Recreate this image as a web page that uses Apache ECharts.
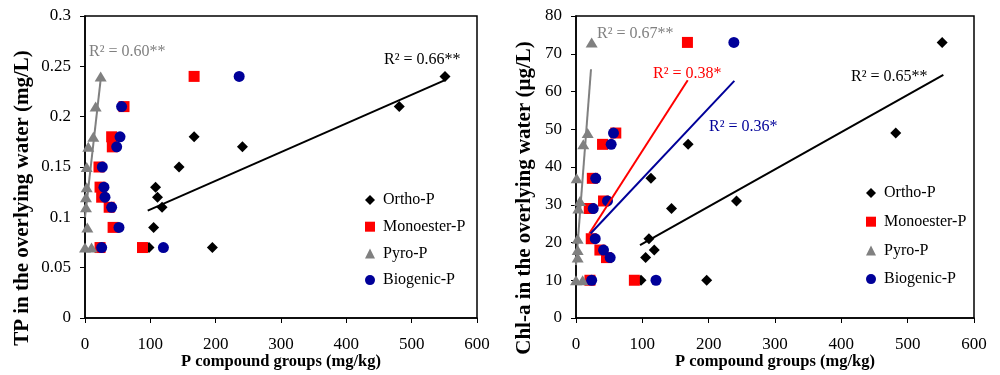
<!DOCTYPE html>
<html><head><meta charset="utf-8">
<script src="https://cdn.jsdelivr.net/npm/echarts@6/dist/echarts.min.js"></script>
<style>html,body{margin:0;padding:0;background:#fff}#c{width:1000px;height:375px}</style>
</head><body><div id="c"></div>
<script>
// ---------- data ----------
const seriesNames = ['Ortho-P', 'Monoester-P', 'Pyro-P', 'Biogenic-P'];
const xTicks = [0, 100, 200, 300, 400, 500, 600];
const tpTicks = [0, 0.05, 0.1, 0.15, 0.2, 0.25, 0.3];
const chlTicks = [0, 10, 20, 30, 40, 50, 60, 70, 80];

// left panel: TP (mg/L) vs P compound groups (mg/kg)
const tpValues = [0.07, 0.07, 0.09, 0.11, 0.12, 0.13, 0.15, 0.17, 0.18, 0.21, 0.24];
const tpOrtho  = [98, 195, 105, 118, 111, 108, 144, 241, 167, 481, 551];
const tpMono   = [23, 88, 43, 37, 25.5, 23, 21.4, 41.8, 40.8, 59.7, 167];
const tpPyro   = [0, 10, 3.6, 1.5, 1.5, 2.6, 2.6, 5, 12.7, 16.3, 24];
const tpBio    = [25.5, 120, 52, 40.8, 30.6, 29, 26.5, 48.5, 53.6, 56, 236];

// right panel: Chl-a (ug/L) vs P compound groups (mg/kg)
const chlValues = [10, 10, 16, 18, 21, 29, 31, 37, 46, 49, 73];
const chlOrtho  = [98, 197, 105, 118, 110, 144, 242, 113, 169, 482, 552];
const chlMono   = [21, 88, 46, 36, 23, 20, 41.5, 24.6, 40, 60, 168];
const chlPyro   = [0, 10, 2.5, 2.5, 2.5, 3.5, 6, 1, 11, 17.6, 23.6];
const chlBio    = [23.6, 120.6, 51.5, 41.5, 29, 26, 47.5, 29.7, 53, 56.5, 238];

// trend line end points [x, y]
const tpTrendOrtho  = [[96, 0.1066], [551, 0.2363]];
const tpTrendPyro   = [[0, 0.10], [24, 0.237]];
const chlTrendOrtho = [[96.5, 19.3], [553.8, 64.4]];
const chlTrendMono  = [[20, 22.4], [168.4, 63]];
const chlTrendPyro  = [[0, 14], [22.6, 65.9]];
const chlTrendBio   = [[22, 22.4], [238.7, 62.8]];

const r2Texts = ['R² = 0.60**', 'R² = 0.66**', 'R² = 0.67**', 'R² = 0.38*', 'R² = 0.36*', 'R² = 0.65**'];
const xTitle = 'P compound groups (mg/kg)';
const yTitleTP = 'TP in the overlying water (mg/L)';
const yTitleChl = 'Chl-a in the overlying water (μg/L)';

// ---------- styles ----------
const FONT = '"Liberation Serif","Times New Roman",serif';
const colors = ['#000000', '#ff0000', '#808080', '#000099'];
const symbols = ['diamond', 'rect', 'triangle', 'circle'];
const symbolSizes = [11, 11, [12, 10], 11];

const zip = (xs, ys) => xs.map((x, i) => [x, ys[i]]);

function scatter(idx, xs, ys, axisIndex) {
  return {
    type: 'scatter', name: seriesNames[idx],
    xAxisIndex: axisIndex, yAxisIndex: axisIndex,
    data: zip(xs, ys),
    symbol: symbols[idx], symbolSize: symbolSizes[idx],
    itemStyle: { color: colors[idx], opacity: 1 },
    emphasis: { disabled: true }
  };
}
function trend(idx, pts, axisIndex) {
  return {
    type: 'line', name: 'trend' + axisIndex + '_' + idx,
    xAxisIndex: axisIndex, yAxisIndex: axisIndex,
    data: pts, showSymbol: false, symbol: 'none',
    lineStyle: { color: colors[idx], width: 2 },
    itemStyle: { color: colors[idx] },
    emphasis: { disabled: true }, z: 3
  };
}

function xAxis(gridIndex) {
  return {
    type: 'value', gridIndex, min: xTicks[0], max: xTicks[xTicks.length - 1],
    interval: xTicks[1] - xTicks[0],
    axisLine: { show: true, onZero: false, lineStyle: { color: '#000', width: 1.5 } },
    axisTick: { show: true, inside: false, length: 5, lineStyle: { color: '#000', width: 1 } },
    axisLabel: { color: '#000', fontFamily: FONT, fontSize: 17, margin: 18 },
    splitLine: { show: false },
    name: xTitle, nameLocation: 'middle', nameGap: 35, nameMoveOverlap: false,
    nameTextStyle: { color: '#000', fontFamily: FONT, fontSize: 16.5, fontWeight: 'bold' }
  };
}
function yAxis(gridIndex, ticks) {
  return {
    type: 'value', gridIndex, min: ticks[0], max: ticks[ticks.length - 1],
    interval: ticks[1] - ticks[0],
    axisLine: { show: true, onZero: false, lineStyle: { color: '#000', width: 1.5 } },
    axisTick: { show: true, inside: false, length: 5, lineStyle: { color: '#000', width: 1 } },
    axisLabel: { color: '#000', fontFamily: FONT, fontSize: 17, margin: 14 },
    splitLine: { show: false }
  };
}

const legendBase = {
  orient: 'vertical', data: seriesNames, itemWidth: 10, itemHeight: 10,
  textStyle: { color: '#000', fontFamily: FONT, fontSize: 16, padding: [0, 0, 0, 3] },
  selectedMode: false, backgroundColor: 'transparent'
};

function label(text, x, y, color) {
  return { type: 'text', x, y, silent: true,
    style: { text, fill: color, font: '16px ' + FONT, textAlign: 'left', textVerticalAlign: 'middle' } };
}
function yTitle(text, x, y) {
  return { type: 'text', x, y, rotation: Math.PI / 2, silent: true,
    style: { text, fill: '#000', font: 'bold 21px ' + FONT, textAlign: 'center', textVerticalAlign: 'middle' } };
}

const gridBase = { show: true, borderColor: '#000', borderWidth: 1.5, backgroundColor: 'transparent',
  containLabel: false, outerBoundsMode: 'none' };

const chart = echarts.init(document.getElementById('c'), null, { renderer: 'canvas' });
chart.setOption({
  animation: false,
  backgroundColor: '#fff',
  grid: [
    Object.assign({}, gridBase, { left: 85, top: 16, width: 392, height: 302 }),
    Object.assign({}, gridBase, { left: 576, top: 16, width: 398, height: 302 })
  ],
  xAxis: [xAxis(0), xAxis(1)],
  yAxis: [yAxis(0, tpTicks), yAxis(1, chlTicks)],
  legend: [
    Object.assign({}, legendBase, { left: 360, top: 187, itemGap: 10.7 }),
    Object.assign({}, legendBase, { left: 861, top: 180, itemGap: 12.7 })
  ],
  series: [
    scatter(0, tpOrtho, tpValues, 0),
    scatter(1, tpMono, tpValues, 0),
    scatter(2, tpPyro, tpValues, 0),
    scatter(3, tpBio, tpValues, 0),
    trend(0, tpTrendOrtho, 0),
    trend(2, tpTrendPyro, 0),
    scatter(0, chlOrtho, chlValues, 1),
    scatter(1, chlMono, chlValues, 1),
    scatter(2, chlPyro, chlValues, 1),
    scatter(3, chlBio, chlValues, 1),
    trend(0, chlTrendOrtho, 1),
    trend(1, chlTrendMono, 1),
    trend(3, chlTrendBio, 1),
    trend(2, chlTrendPyro, 1)
  ],
  graphic: [
    label(r2Texts[0], 89, 52, '#808080'),
    label(r2Texts[1], 384, 60, '#000000'),
    label(r2Texts[2], 597, 34, '#808080'),
    label(r2Texts[3], 653, 74, '#ff0000'),
    label(r2Texts[4], 709, 127, '#000099'),
    label(r2Texts[5], 851, 77, '#000000'),
    yTitle(yTitleTP, 23, 198),
    yTitle(yTitleChl, 525, 198)
  ]
});
</script></body></html>
